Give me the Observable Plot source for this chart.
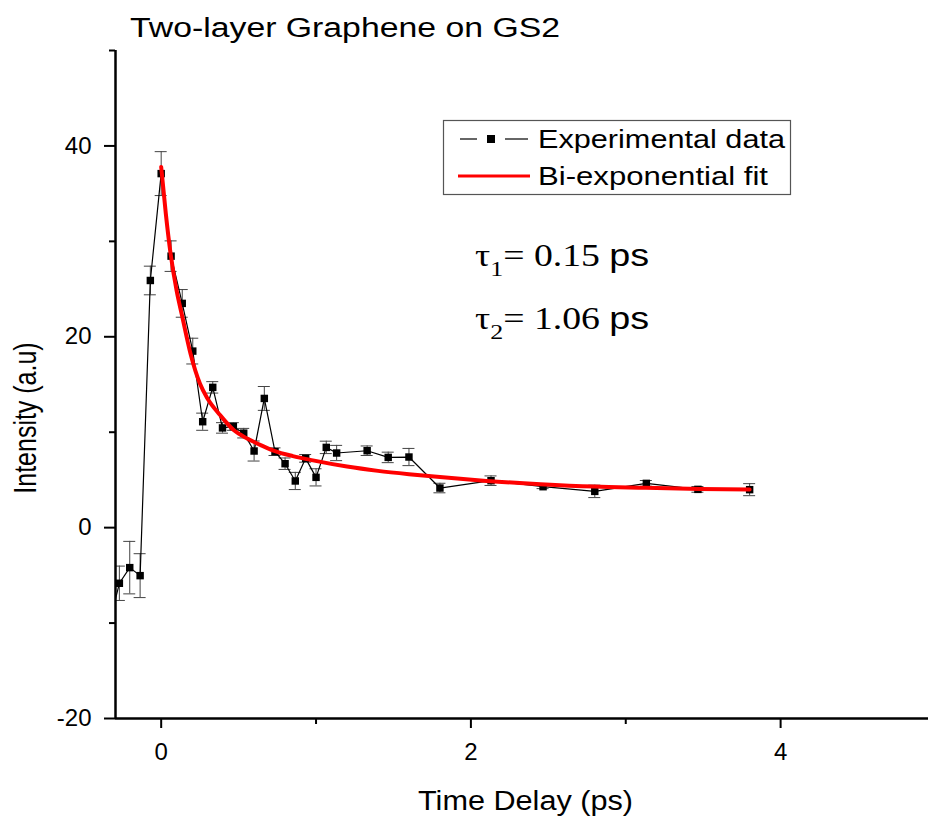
<!DOCTYPE html>
<html>
<head>
<meta charset="utf-8">
<script src="https://cdn.jsdelivr.net/npm/d3@7"></script>
<script src="https://cdn.jsdelivr.net/npm/@observablehq/plot@0.6"></script>
<style>
  html, body { margin: 0; padding: 0; background: #fff; }
  #wrap { position: relative; width: 928px; height: 818px; font-family: "Liberation Sans", Arial, sans-serif; color: #000; }
</style>
</head>
<body>
<div id="wrap"></div>
<script>
// ---- data ----
const timeDelay = [-0.34, -0.27, -0.203, -0.136, -0.07, 0.0, 0.064, 0.136, 0.204, 0.268, 0.333, 0.396, 0.466, 0.533, 0.6, 0.666, 0.735, 0.8, 0.866, 0.933, 1.0, 1.066, 1.133, 1.33, 1.466, 1.6, 1.8, 2.13, 2.466, 2.8, 3.133, 3.466, 3.8];
const intensity = [-10.4, -5.83, -4.19, -5.03, 25.9, 37.1, 28.45, 23.5, 18.5, 11.1, 14.7, 10.45, 10.6, 9.9, 8.03, 13.54, 7.96, 6.7, 4.89, 7.26, 5.27, 8.41, 7.82, 8.06, 7.36, 7.4, 4.15, 4.92, 4.29, 3.8, 4.64, 4.01, 3.98];
const errorBar  = [0, 1.8, 2.75, 2.3, 1.5, 2.3, 1.6, 1.45, 1.35, 0.9, 0.6, 0.55, 0.4, 0.5, 1.05, 1.25, 0.4, 0.6, 0.9, 0.4, 0.9, 0.65, 0.8, 0.5, 0.55, 0.9, 0.5, 0.5, 0.2, 0.65, 0.3, 0.3, 0.63];

const fitTime      = [0, 0.03, 0.06, 0.1, 0.135, 0.19, 0.25, 0.3, 0.38, 0.47, 0.555, 0.65, 0.73, 0.85, 0.98, 1.2, 1.4, 1.6, 1.8, 2.1, 2.45, 2.8, 3.13, 3.48, 3.8];
const fitIntensity = [37.8, 32.9, 28.8, 24.8, 22.2, 18.2, 15.1, 13.5, 11.8, 10.2, 9.35, 8.6, 8.05, 7.5, 7.05, 6.4, 5.95, 5.6, 5.3, 4.9, 4.55, 4.3, 4.18, 4.05, 4.0];

const xMajorTicks = [0, 2, 4];
const xMinorTicks = [1, 3, 5];
const yMajorTicks = [-20, 0, 20, 40];
const yMinorTicks = [-10, 10, 30, 50];

const titleText = "Two-layer Graphene on GS2";
const xLabel = "Time Delay (ps)";
const yLabel = "Intensity (a.u)";
const legendLabels = ["Experimental data", "Bi-exponential fit"];
const tauLabels = [["1", "0.15"], ["2", "1.06"]];

// ---- build ----
const points = timeDelay.map((t, i) => ({t, v: intensity[i], e: errorBar[i]}));
const errPoints = points.filter(d => d.e > 0);
const fit = fitTime.map((t, i) => ({t, v: fitIntensity[i]}));

const X0 = -0.295, X1 = 4.955;
const font = "'Liberation Sans', Arial, sans-serif";
const serif = "'Liberation Serif', 'Times New Roman', serif";

const chart = Plot.plot({
  width: 928,
  height: 818,
  marginTop: 50,
  marginBottom: 100,
  marginLeft: 115,
  marginRight: 0,
  style: {fontFamily: font, color: "#000", background: "#fff", overflow: "visible"},
  x: {domain: [X0, X1]},
  y: {domain: [-20, 50]},
  marks: [
    Plot.ruleX(errPoints, {x: "t", y1: d => d.v - d.e, y2: d => d.v + d.e, stroke: "#444", strokeWidth: 1, clip: true}),
    Plot.ruleY(errPoints, {y: d => d.v + d.e, x1: "t", x2: "t", insetLeft: -6, insetRight: -6, stroke: "#444", strokeWidth: 1, clip: true}),
    Plot.ruleY(errPoints, {y: d => d.v - d.e, x1: "t", x2: "t", insetLeft: -6, insetRight: -6, stroke: "#444", strokeWidth: 1, clip: true}),
    Plot.line(points, {x: "t", y: "v", stroke: "#000", strokeWidth: 1.2, clip: true}),
    Plot.dot(points, {x: "t", y: "v", symbol: "square", r: 4.2, fill: "#000", stroke: "none", clip: true}),
    Plot.line(fit, {x: "t", y: "v", curve: "monotone-x", stroke: "#ff0000", strokeWidth: 4}),
    Plot.axisY(yMajorTicks, {tickSize: 11, tickPadding: 13, fontSize: 24, label: null, tickFormat: d => String(d), stroke: "#000", strokeWidth: 2}),
    Plot.axisY(yMinorTicks, {tickSize: 6, tickFormat: () => "", label: null, stroke: "#000", strokeWidth: 2}),
    Plot.axisX(xMajorTicks, {tickSize: 10, tickPadding: 14, fontSize: 24, label: null, tickFormat: d => String(d), stroke: "#000", strokeWidth: 2}),
    Plot.axisX(xMinorTicks, {tickSize: 6, tickFormat: () => "", label: null, stroke: "#000", strokeWidth: 2}),
    Plot.ruleX([X0], {stroke: "#000", strokeWidth: 2.5}),
    Plot.ruleY([-20], {stroke: "#000", strokeWidth: 2.5})
  ]
});

const wrap = document.getElementById("wrap");
wrap.appendChild(chart);

const ns = "http://www.w3.org/2000/svg";
const svg = document.createElementNS(ns, "svg");
svg.setAttribute("width", 928);
svg.setAttribute("height", 818);
svg.style.cssText = "position:absolute;left:0;top:0;pointer-events:none;";
const tau = (lab, y) => `
  <g transform="translate(475,${y}) scale(1.18,1)">
    <text x="0" y="0" font-size="32"><tspan font-family="${serif}">τ</tspan><tspan font-family="${serif}" font-size="22" dy="10">${lab[0]}</tspan><tspan font-family="${serif}" dy="-10">= ${lab[1]} </tspan><tspan font-family="${font}">ps</tspan></text>
  </g>`;
svg.innerHTML = `
  <text x="130" y="37" font-family="${font}" font-size="27" textLength="430" lengthAdjust="spacingAndGlyphs">${titleText}</text>
  <text x="418" y="810" font-family="${font}" font-size="27" textLength="215" lengthAdjust="spacingAndGlyphs">${xLabel}</text>
  <g transform="translate(36,418) rotate(-90)">
    <text x="0" y="0" text-anchor="middle" font-family="${font}" font-size="25" transform="scale(1,1.25)">${yLabel}</text>
  </g>
  <rect x="443.5" y="120.5" width="347" height="74" fill="#fff" stroke="#555" stroke-width="1.2"/>
  <line x1="460" x2="477" y1="139" y2="139" stroke="#000" stroke-width="1.2"/>
  <rect x="487" y="135" width="8" height="8" fill="#000"/>
  <line x1="505" x2="528" y1="139" y2="139" stroke="#000" stroke-width="1.2"/>
  <text x="538" y="148" font-family="${font}" font-size="25" textLength="247" lengthAdjust="spacingAndGlyphs">${legendLabels[0]}</text>
  <line x1="458" x2="530" y1="176" y2="176" stroke="#ff0000" stroke-width="3"/>
  <text x="538" y="185" font-family="${font}" font-size="25" textLength="230" lengthAdjust="spacingAndGlyphs">${legendLabels[1]}</text>
  ${tau(tauLabels[0], 266)}
  ${tau(tauLabels[1], 329)}
`;
wrap.appendChild(svg);
</script>
</body>
</html>
